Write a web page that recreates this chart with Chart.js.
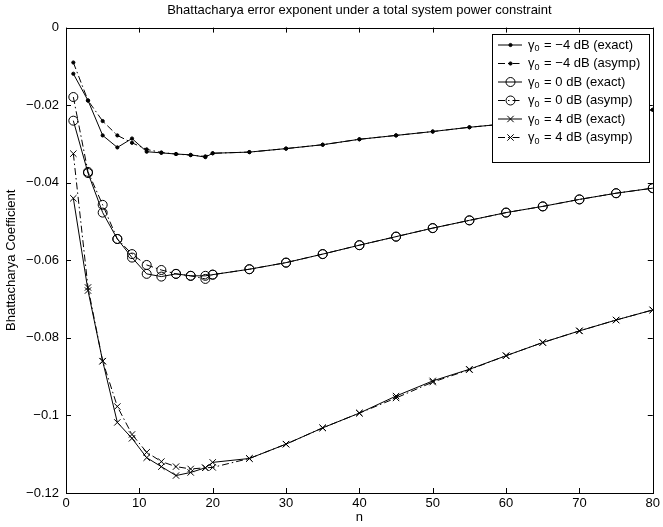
<!DOCTYPE html>
<html>
<head>
<meta charset="utf-8">
<script src="https://cdn.jsdelivr.net/npm/chart.js@4.4.0/dist/chart.umd.min.js"></script>
<style>
  html, body { margin: 0; padding: 0; background: #fff; }
  #chart { display: block; }
</style>
</head>
<body>
<canvas id="chart" width="663" height="527"></canvas>
<script>
// sample sizes n (same for every curve)
const nValues = [1, 3, 5, 7, 9, 11, 13, 15, 17, 19, 20, 25, 30, 35, 40, 45, 50, 55, 60, 65, 70, 75, 80];

// gamma0 = -4 dB
const exactM4 = [-0.0119, -0.0188, -0.0278, -0.0309, -0.0286, -0.0320, -0.0323, -0.0326, -0.0328, -0.0334, -0.0324,
  -0.0321, -0.0312, -0.0302, -0.0288, -0.0278, -0.0268, -0.0257, -0.0248, -0.0239, -0.0230, -0.0221, -0.0212];
const asympM4 = [-0.0090, -0.0188, -0.0241, -0.0278, -0.0297, -0.0314, -0.0322, -0.0326, -0.0329, -0.0332, -0.0324,
  -0.0321, -0.0312, -0.0302, -0.0288, -0.0278, -0.0268, -0.0257, -0.0248, -0.0239, -0.0230, -0.0221, -0.0212];

// gamma0 = 0 dB
const exact0 = [-0.0240, -0.0375, -0.0477, -0.0545, -0.0593, -0.0635, -0.0642, -0.0635, -0.0640, -0.0640, -0.0637,
  -0.0623, -0.0606, -0.0584, -0.0561, -0.0539, -0.0517, -0.0497, -0.0477, -0.0461, -0.0443, -0.0427, -0.0414];
const asymp0 = [-0.0179, -0.0372, -0.0457, -0.0545, -0.0584, -0.0612, -0.0625, -0.0635, -0.0640, -0.0648, -0.0637,
  -0.0623, -0.0606, -0.0584, -0.0561, -0.0539, -0.0517, -0.0497, -0.0477, -0.0461, -0.0443, -0.0427, -0.0414];

// gamma0 = 4 dB
const exactP4 = [-0.0440, -0.0678, -0.0860, -0.1018, -0.1059, -0.1109, -0.1132, -0.1155, -0.1147, -0.1135, -0.1121,
  -0.1111, -0.1074, -0.1032, -0.0994, -0.0950, -0.0911, -0.0881, -0.0846, -0.0812, -0.0782, -0.0754, -0.0728];
const asympP4 = [-0.0325, -0.0670, -0.0860, -0.0977, -0.1049, -0.1095, -0.1119, -0.1132, -0.1138, -0.1135, -0.1134,
  -0.1111, -0.1074, -0.1032, -0.0994, -0.0955, -0.0914, -0.0882, -0.0846, -0.0812, -0.0782, -0.0754, -0.0728];

const gammaDb = ['\u22124', '\u22124', '0', '0', '4', '4'];
const kinds = ['exact', 'asymp', 'exact', 'asymp', 'exact', 'asymp'];

const FONT = '"Liberation Sans", Arial, Helvetica, sans-serif';
Chart.defaults.font.family = FONT;
Chart.defaults.font.size = 13;
Chart.defaults.color = '#000';

const DASHDOT = [7, 3, 1.5, 3];

function pts(ys) {
  return nValues.map((n, i) => ({ x: n, y: ys[i] }));
}

function series(ys, idx, style, radius, fill) {
  return {
    label: '\u03b30 = ' + gammaDb[idx] + ' dB (' + kinds[idx] + ')',
    gamma: gammaDb[idx],
    kind: kinds[idx],
    data: pts(ys),
    borderColor: '#000',
    borderWidth: 1,
    borderDash: kinds[idx] === 'asymp' ? DASHDOT : [],
    pointStyle: style,
    pointRadius: radius,
    pointBorderColor: '#000',
    pointBorderWidth: 1,
    pointBackgroundColor: fill,
    tension: 0,
    fill: false
  };
}

// matlab-like box, inward ticks and inset legend
const matlabBox = {
  id: 'matlabBox',
  afterDraw(chart) {
    const { ctx, chartArea: a, scales: { x, y } } = chart;
    ctx.save();
    ctx.strokeStyle = '#000';
    ctx.lineWidth = 1;
    ctx.setLineDash([]);
    ctx.strokeRect(Math.round(a.left) + 0.5, Math.round(a.top) + 0.5,
      Math.round(a.right - a.left), Math.round(a.bottom - a.top));
    ctx.beginPath();
    x.ticks.forEach(t => {
      const px = Math.round(x.getPixelForValue(t.value)) + 0.5;
      ctx.moveTo(px, a.bottom); ctx.lineTo(px, a.bottom - 5);
      ctx.moveTo(px, a.top); ctx.lineTo(px, a.top + 5);
    });
    y.ticks.forEach(t => {
      const py = Math.round(y.getPixelForValue(t.value)) + 0.5;
      ctx.moveTo(a.left, py); ctx.lineTo(a.left + 5, py);
      ctx.moveTo(a.right, py); ctx.lineTo(a.right - 5, py);
    });
    ctx.stroke();

    // legend
    const lw = 157, lh = 128;
    const lx = Math.round(a.right) - 161, ly = Math.round(a.top) + 6;
    ctx.fillStyle = '#fff';
    ctx.fillRect(lx, ly, lw, lh);
    ctx.strokeRect(lx + 0.5, ly + 0.5, lw, lh);
    chart.data.datasets.forEach((ds, i) => {
      const cy = ly + 11 + i * 18.5;
      ctx.beginPath();
      ctx.setLineDash(ds.borderDash);
      ctx.moveTo(lx + 6, cy); ctx.lineTo(lx + 30, cy);
      ctx.stroke();
      ctx.setLineDash([]);
      ctx.fillStyle = ds.pointBackgroundColor;
      Chart.helpers.drawPoint(ctx, { pointStyle: ds.pointStyle, radius: ds.pointRadius, borderWidth: 1, rotation: 0 }, lx + 18.5, cy);
      ctx.fillStyle = '#000';
      ctx.textBaseline = 'middle';
      ctx.textAlign = 'left';
      let tx = lx + 36;
      ctx.font = '13px ' + FONT;
      ctx.fillText('\u03b3', tx, cy);
      tx += ctx.measureText('\u03b3').width;
      ctx.font = '9px ' + FONT;
      ctx.fillText('0', tx, cy + 4);
      tx += ctx.measureText('0').width + 1;
      ctx.font = '13px ' + FONT;
      ctx.fillText(' = ' + ds.gamma + ' dB (' + ds.kind + ')', tx, cy);
    });
    ctx.restore();
  }
};

new Chart(document.getElementById('chart'), {
  type: 'line',
  data: {
    datasets: [
      series(exactM4, 0, 'circle', 1.6, '#000'),
      series(asympM4, 1, 'circle', 1.6, '#000'),
      series(exact0, 2, 'circle', 4.5, 'rgba(0,0,0,0)'),
      series(asymp0, 3, 'circle', 4.5, 'rgba(0,0,0,0)'),
      series(exactP4, 4, 'crossRot', 4.5, 'rgba(0,0,0,0)'),
      series(asympP4, 5, 'crossRot', 4.5, 'rgba(0,0,0,0)')
    ]
  },
  options: {
    responsive: false,
    animation: false,
    layout: { padding: { top: 0, right: 7, bottom: 0, left: 0 } },
    plugins: {
      legend: { display: false },
      tooltip: { enabled: false },
      title: {
        display: true,
        fullSize: false,
        text: 'Bhattacharya error exponent under a total system power constraint',
        color: '#000',
        font: { size: 13, weight: 'normal' },
        padding: { top: 3, bottom: 9 }
      }
    },
    scales: {
      x: {
        type: 'linear',
        min: 0,
        max: 80,
        grid: { display: false, drawTicks: false },
        border: { display: false },
        ticks: { stepSize: 10, padding: 3, maxRotation: 0, autoSkip: false, color: '#000' },
        title: { display: true, text: 'n', color: '#000', font: { size: 13 }, padding: { top: 0, bottom: 2 } },
        afterFit(s) { s.height = 34; }
      },
      y: {
        type: 'linear',
        min: -0.12,
        max: 0,
        grid: { display: false, drawTicks: false },
        border: { display: false },
        ticks: {
          stepSize: 0.02,
          padding: 7,
          color: '#000',
          callback: v => v === 0 ? '0' : '\u2212' + parseFloat(Math.abs(v).toFixed(2))
        },
        title: { display: true, text: 'Bhattacharya Coefficient', color: '#000', font: { size: 13 }, padding: { top: 4, bottom: 0 } },
        afterFit(s) { s.width = 66; }
      }
    }
  },
  plugins: [matlabBox]
});
</script>
</body>
</html>
